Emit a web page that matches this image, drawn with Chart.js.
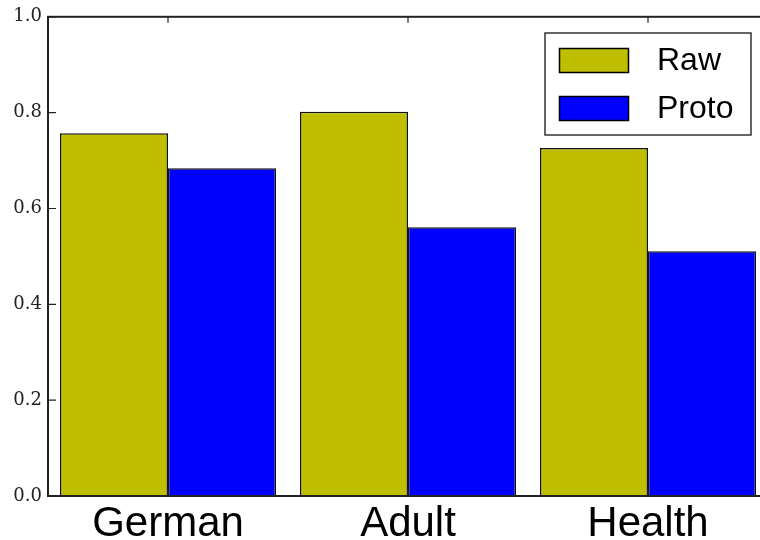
<!DOCTYPE html>
<html>
<head>
<meta charset="utf-8">
<script src="https://cdn.jsdelivr.net/npm/chart.js@4"></script>
<style>
  html, body { margin: 0; padding: 0; background: #fff; overflow: hidden; }
  #wrap { width: 780px; height: 540px; }
</style>
</head>
<body>
<div id="wrap"><canvas id="barChart" width="780" height="540"></canvas></div>
<script>
// dados
const categorias = ['German', 'Adult', 'Health'];
const valoresRaw = [0.757, 0.802, 0.726];
const valoresProto = [0.684, 0.561, 0.511];
const nomesSeries = ['Raw', 'Proto'];
const coresSeries = ['#bfbf00', '#0000ff'];

// moldura + ticks internos (estilo matplotlib) e legenda dentro do gráfico
const molduraPlugin = {
  id: 'moldura',
  afterDatasetsDraw(chart) {
    const { ctx, chartArea: a, scales } = chart;
    ctx.save();
    ctx.strokeStyle = '#222';
    ctx.lineWidth = 2;
    ctx.strokeRect(a.left, a.top, a.right - a.left, a.bottom - a.top);
    ctx.lineWidth = 1.2;
    ctx.beginPath();
    scales.y.ticks.forEach(t => {
      const y = scales.y.getPixelForValue(t.value);
      ctx.moveTo(a.left, y); ctx.lineTo(a.left + 8, y);
      ctx.moveTo(a.right, y); ctx.lineTo(a.right - 8, y);
    });
    categorias.forEach((c, i) => {
      const x = scales.x.getPixelForValue(i);
      ctx.moveTo(x, a.top); ctx.lineTo(x, a.top + 6);
      ctx.moveTo(x, a.bottom); ctx.lineTo(x, a.bottom - 6);
    });
    ctx.stroke();

    // legenda
    const lx = 545, ly = 33, lw = 206, lh = 102;
    ctx.fillStyle = '#fff';
    ctx.fillRect(lx, ly, lw, lh);
    ctx.strokeStyle = '#333';
    ctx.lineWidth = 1.5;
    ctx.strokeRect(lx, ly, lw, lh);
    ctx.font = '32px "Liberation Sans", Arial, sans-serif';
    ctx.textBaseline = 'middle';
    chart.data.datasets.forEach((ds, i) => {
      const y = 48 + i * 48;
      ctx.fillStyle = ds.backgroundColor;
      ctx.fillRect(559, y, 69, 24);
      ctx.strokeStyle = '#000';
      ctx.lineWidth = 1.5;
      ctx.strokeRect(559.5, y + 0.5, 69, 24);
      ctx.fillStyle = '#000';
      ctx.fillText(ds.label, 657, y + 13);
    });
    ctx.restore();
  }
};

const ctx = document.getElementById('barChart').getContext('2d');
new Chart(ctx, {
  type: 'bar',
  data: {
    labels: categorias,
    datasets: [
      { label: nomesSeries[0], data: valoresRaw, backgroundColor: coresSeries[0], borderColor: '#111', borderWidth: 1.5 },
      { label: nomesSeries[1], data: valoresProto, backgroundColor: coresSeries[1], borderColor: '#111', borderWidth: 1.5 }
    ]
  },
  options: {
    responsive: false,
    animation: false,
    layout: { padding: { top: 16, right: 12, left: 0, bottom: 0 } },
    datasets: { bar: { categoryPercentage: 0.9, barPercentage: 1.0 } },
    plugins: { legend: { display: false }, tooltip: { enabled: false } },
    scales: {
      x: {
        grid: { display: false, drawTicks: false },
        border: { display: false },
        ticks: { color: '#000', padding: 3, font: { family: '"Liberation Sans", Arial, sans-serif', size: 42 } },
        afterFit(s) { s.height = 44; }
      },
      y: {
        min: 0, max: 1,
        grid: { display: false, drawTicks: false },
        border: { display: false },
        ticks: {
          stepSize: 0.2, color: '#222', padding: 6,
          font: { family: '"DejaVu Serif", serif', size: 18 },
          callback: v => v.toFixed(1)
        },
        afterFit(s) { s.width = 48; }
      }
    }
  },
  plugins: [molduraPlugin]
});
</script>
</body>
</html>
